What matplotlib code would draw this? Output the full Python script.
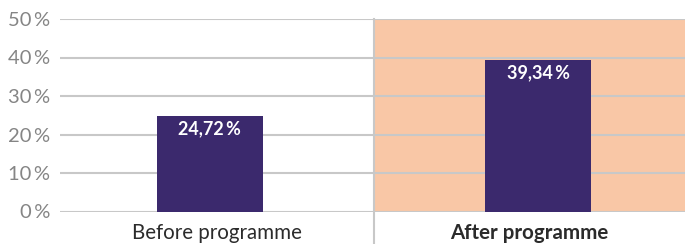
import matplotlib
matplotlib.use("Agg")
import matplotlib.pyplot as plt
from matplotlib.ticker import FixedLocator, FuncFormatter

plt.rcParams['font.family'] = ['Lato', 'DejaVu Sans']

categories = ["Before programme", "After programme"]
values = [24.72, 39.34]
value_labels = ["24,72\u2009%", "39,34\u2009%"]
yticks = [0, 10, 20, 30, 40, 50]

bar_color = "#3b296d"
hl_color = "#f9c7a6"
grid_color = "#c8c8c8"

fig = plt.figure(figsize=(6.85, 2.44), dpi=100)
ax = fig.add_axes([60/685, (244-211.5)/244, 625/685, 192.5/244])

xl, xr = -0.457, 1.448
ax.set_xlim(xl, xr)
ax.set_ylim(0, 50)

ax.axvspan(0.5, xr, ymin=0, ymax=1, color=hl_color, zorder=0, lw=0)
for t in yticks:
    ax.axhline(t, color=grid_color, lw=1.5, zorder=1)

xs = [0, 1]
ax.bar(xs, values, width=0.323, color=bar_color, zorder=2)
for x, v, lab in zip(xs, values, value_labels):
    ax.text(x, v - 1.1, lab, ha='center', va='top', color='white',
            fontsize=13, fontweight='bold', zorder=3)

# divider
ax.plot([0.5, 0.5], [50, -9], color=grid_color, lw=1.5, clip_on=False, zorder=1)

for s in ax.spines.values():
    s.set_visible(False)

ax.yaxis.set_major_locator(FixedLocator(yticks))
ax.yaxis.set_major_formatter(FuncFormatter(lambda v, p: f"{int(v)}\u2009%"))
ax.tick_params(axis='y', length=0, pad=7, labelsize=14.5, labelcolor="#858585")

centers = [(xl + 0.5) / 2, (0.5 + xr) / 2]
ax.set_xticks(centers)
ax.set_xticklabels(categories)
ax.tick_params(axis='x', length=0, pad=8, labelsize=14.8, labelcolor="#2b2b2b")
ax.get_xticklabels()[1].set_fontweight('bold')

fig.savefig("out.png", dpi=100)
